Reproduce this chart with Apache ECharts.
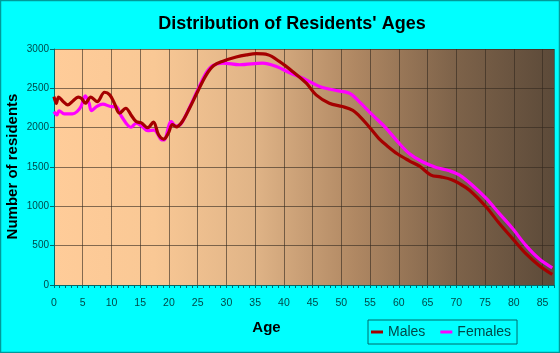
<!DOCTYPE html>
<html>
<head>
<meta charset="utf-8">
<script src="https://cdn.jsdelivr.net/npm/echarts@6/dist/echarts.min.js"></script>
<style>
html,body{margin:0;padding:0;background:#00FFFF;}
#chart{width:560px;height:353px;}
</style>
</head>
<body>
<div id="chart"></div>
<script>
// ---- data ----
var title = "Distribution of Residents' Ages";
var xAxisTitle = "Age";
var yAxisTitle = "Number of residents";
var seriesNames = ["Males", "Females"];
var xTicks = [0, 5, 10, 15, 20, 25, 30, 35, 40, 45, 50, 55, 60, 65, 70, 75, 80, 85];
var yTicks = [0, 500, 1000, 1500, 2000, 2500, 3000];

var maleAges = [0, 0.4, 0.8, 1.5, 2.4, 3.3, 4.2, 4.8, 5.45, 6.4, 7.5, 8.8, 9.7, 10.5, 11.4, 12.5, 13.4, 14.3, 15.2, 16.3, 17.3, 18.2, 19.1, 19.9, 20.6, 21.3, 22.3, 23.6, 25.0, 26.5, 27.8, 29.4, 31.7, 33.5, 35.2, 37.2, 39.2, 41.5, 43.9, 45.6, 47.9, 50.2, 52, 53.1, 54.3, 55.4, 56.5, 57.8, 59.8, 61.8, 63.6, 65.6, 67.3, 69.1, 70.5, 72.3, 75.2, 77.5, 79.8, 82.1, 84.4, 86.7];
var maleValues = [2395, 2310, 2390, 2340, 2290, 2340, 2387, 2370, 2311, 2387, 2332, 2450, 2417, 2311, 2183, 2247, 2162, 2077, 2060, 2000, 2070, 1910, 1855, 1930, 2040, 2010, 2075, 2250, 2460, 2672, 2790, 2845, 2898, 2925, 2940, 2927, 2842, 2715, 2566, 2417, 2311, 2268, 2220, 2149, 2056, 1960, 1865, 1779, 1665, 1579, 1511, 1397, 1375, 1342, 1291, 1205, 992, 781, 589, 398, 249, 134];

var femaleAges = [0, 0.5, 0.9, 1.8, 3.2, 4.0, 4.7, 5.45, 6.1, 6.5, 7.4, 8.5, 10.0, 10.8, 11.7, 13.4, 14.3, 15.4, 16.3, 17.4, 18.6, 19.1, 20.4, 21.2, 22.1, 23.6, 25.0, 26.5, 27.6, 29.4, 32.3, 36.3, 38.7, 40.9, 43.9, 46.2, 49.1, 51.4, 53.1, 55.4, 57.8, 59.8, 61.8, 64.1, 66.5, 68.8, 70.5, 72.8, 75.2, 77.5, 79.8, 82.1, 84.4, 86.7];
var femaleValues = [2204, 2162, 2215, 2175, 2175, 2204, 2268, 2404, 2311, 2217, 2268, 2298, 2268, 2268, 2149, 2005, 2056, 2010, 1962, 1970, 1852, 1843, 2077, 2020, 2050, 2260, 2480, 2700, 2790, 2821, 2800, 2821, 2778, 2702, 2608, 2523, 2472, 2438, 2332, 2162, 1992, 1822, 1673, 1567, 1495, 1452, 1400, 1269, 1100, 908, 717, 504, 334, 219];

function pairs(xs, ys) { return xs.map(function (x, i) { return [x, ys[i]]; }); }

var chart = echarts.init(document.getElementById('chart'), null, {renderer: 'canvas'});
var labelColor = '#004848';
var axisColor = '#006a6a';
var gridColor = 'rgba(50,40,30,0.6)';

chart.setOption({
  animation: false,
  backgroundColor: '#00FFFF',
  grid: {
    left: 54, right: 6, top: 49, bottom: 68,
    show: true, borderWidth: 0,
    backgroundColor: {
      type: 'linear', x: 0, y: 0, x2: 1, y2: 0,
      colorStops: [
        {offset: 0, color: '#FFCC99'},
        {offset: 0.2, color: '#F9C895'},
        {offset: 0.4, color: '#E0B487'},
        {offset: 0.6, color: '#B08863'},
        {offset: 0.8, color: '#7E634A'},
        {offset: 1, color: '#5C4A39'}
      ]
    }
  },
  legend: {
    data: seriesNames,
    left: 368, top: 320,
    padding: [5, 6, 5, 3],
    borderColor: '#006a6a', borderWidth: 1,
    icon: 'rect', itemWidth: 12, itemHeight: 3, itemGap: 15,
    textStyle: {fontFamily: 'Liberation Sans', fontSize: 14, color: labelColor}
  },
  xAxis: [{
    type: 'value', min: 0, max: 87, interval: 5,
    axisLine: {show: true, lineStyle: {color: axisColor, width: 1}},
    axisTick: {show: false},
    axisLabel: {
      margin: 13, showMaxLabel: false,
      fontFamily: 'Liberation Sans', fontSize: 10.5, color: labelColor,
      formatter: function (v) { return xTicks.indexOf(v) >= 0 ? String(v) : ''; }
    },
    splitLine: {show: true, lineStyle: {color: gridColor, width: 1}}
  }, {
    type: 'value', min: 0, max: 87, interval: 1, position: 'bottom',
    axisLine: {show: false},
    axisTick: {show: true, length: 3, lineStyle: {color: axisColor}},
    axisLabel: {show: false},
    splitLine: {show: false}
  }],
  yAxis: {
    type: 'value', min: yTicks[0], max: yTicks[yTicks.length - 1], interval: 500,
    axisLine: {show: true, lineStyle: {color: axisColor, width: 1}},
    axisTick: {show: true, length: 4, lineStyle: {color: axisColor}},
    axisLabel: {
      margin: 5, fontFamily: 'Liberation Sans', fontSize: 10, color: labelColor,
      formatter: function (v) { return yTicks.indexOf(v) >= 0 ? String(v) : ''; }
    },
    splitLine: {show: true, lineStyle: {color: gridColor, width: 1}}
  },
  series: [{
    name: seriesNames[0], type: 'line', z: 3,
    data: pairs(maleAges, maleValues),
    smooth: 0.35, showSymbol: false, symbol: 'none',
    itemStyle: {color: '#A50000'},
    lineStyle: {color: '#A50000', width: 3.2}
  }, {
    name: seriesNames[1], type: 'line', z: 2,
    data: pairs(femaleAges, femaleValues),
    smooth: 0.35, showSymbol: false, symbol: 'none',
    itemStyle: {color: '#FF00FF'},
    lineStyle: {color: '#FF00FF', width: 3.2}
  }],
  graphic: [{
    type: 'rect', silent: true, z: -1,
    shape: {x: 0.5, y: 0.5, width: 559, height: 352},
    style: {fill: 'none', stroke: '#009a9a', lineWidth: 1.5}
  }, {
    type: 'text', x: 292, y: 24,
    style: {text: title, font: 'bold 18px "Liberation Sans"', fill: '#000', align: 'center', verticalAlign: 'middle'}
  }, {
    type: 'text', x: 266.5, y: 328,
    style: {text: xAxisTitle, font: 'bold 15px "Liberation Sans"', fill: '#000', align: 'center', verticalAlign: 'middle'}
  }, {
    type: 'text', x: 12.5, y: 166.5, rotation: Math.PI / 2,
    style: {text: yAxisTitle, font: 'bold 15px "Liberation Sans"', fill: '#000', align: 'center', verticalAlign: 'middle'}
  }]
});
</script>
</body>
</html>
